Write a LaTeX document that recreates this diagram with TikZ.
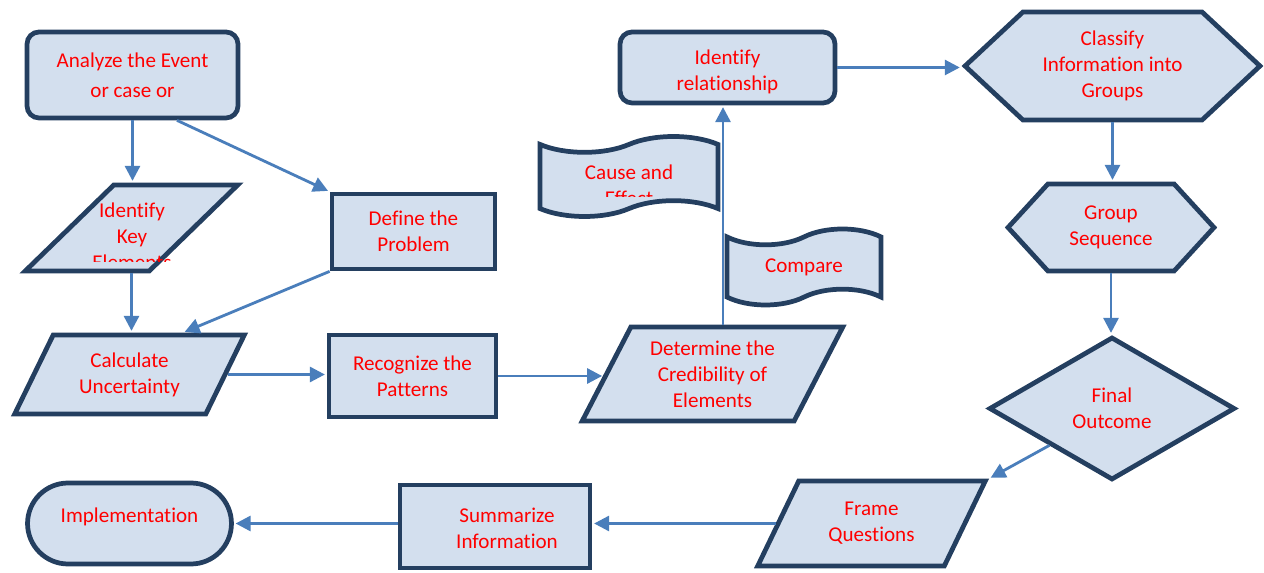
\documentclass[tikz,border=0pt]{standalone}
\usepackage{fontspec}
\setmainfont{Carlito}[Ligatures=NoCommon]
\usetikzlibrary{arrows.meta,shapes.geometric,shapes.misc,shapes.symbols}
\definecolor{boxfill}{HTML}{D3DFEE}
\definecolor{boxline}{HTML}{243F60}
\definecolor{flowline}{HTML}{4A7EBB}
\tikzset{
  fc_txt/.style = {text=red, align=center, inner sep=0pt,
    font=\fontsize{12}{14.8}\selectfont},
  fc_node/.style = {fc_txt, draw=boxline, fill=boxfill, line width=2.7pt,
    inner sep=2pt},
  fc_box/.style = {fc_node, rectangle},% process
  fc_rnd/.style = {fc_node, rectangle, rounded corners=0.24cm},% process, round
  fc_io/.style = {fc_node, trapezium, trapezium left angle=62,
    trapezium right angle=118, trapezium stretches=true},% data
  fc_hex/.style = {fc_node, signal, signal to=east and west},% preparation
  fc_dec/.style = {fc_node, diamond},% decision
  fc_tape/.style = {fc_node, tape, tape bend height=9pt},% tape
  fc_end/.style = {fc_node, rounded rectangle},% terminator
  flow/.style = {draw=flowline, line width=1.6pt, shorten >=1pt,
    -{Triangle[length=8.5pt,width=8.5pt]}}
}

\begin{document}
\begin{tikzpicture}[x=0.02cm, y=-0.02cm]
\useasboundingbox (0,0) rectangle (1264,573);

% left column
\node[fc_rnd, minimum width=4.22cm, minimum height=1.72cm] (analyze)
  at (132.5,75) {Analyze the Event\\[2.3pt]or case or};
\node[fc_io, minimum width=4.26cm, minimum height=1.72cm] (keyel)
  at (131.5,228) {\strut};
\begin{scope}
  \clip (0,183) rectangle (300,262);
  \node[fc_txt] (keyelt) at (132,236) {Identify\\Key\\Elements};
\end{scope}
\node[fc_box, minimum width=3.26cm, minimum height=1.5cm] (define)
  at (413.5,231.5) {Define the\\Problem};
\node[fc_io, minimum width=4.62cm, minimum height=1.58cm] (calc)
  at (129.5,374.5) {Calculate\\Uncertainty};
\node[fc_box, minimum width=3.34cm, minimum height=1.64cm] (recognize)
  at (412.5,376) {Recognize the\\Patterns};

% middle
\node[fc_io, minimum width=5.22cm, minimum height=1.88cm] (determine)
  at (712.5,374) {Determine the\\Credibility of\\Elements};
\node[fc_rnd, minimum width=4.3cm, minimum height=1.42cm] (relation)
  at (727.5,67.5) {};
\node[fc_txt] (relationt) at (727.5,72) {Identify\\relationship};
\node[fc_tape, minimum width=3.56cm, minimum height=1.6cm] (cause)
  at (629,176.5) {\strut};
\begin{scope}
  \clip (500,140) rectangle (720,197);
  \node[fc_txt] (causet) at (629,185) {Cause and\\Effect};
\end{scope}
\node[fc_tape, minimum width=3.08cm, minimum height=1.52cm] (compare)
  at (804,267) {Compare};

% right column
\node[fc_hex, signal pointer angle=86, minimum width=5.9cm,
  minimum height=2.16cm] (classify) at (1112.5,66)
  {Classify\\Information into\\Groups};
\node[fc_hex, signal pointer angle=95, minimum width=4.12cm,
  minimum height=1.74cm] (group) at (1111,227.5) {Group\\Sequence};
\node[fc_dec, minimum width=4.92cm, minimum height=2.86cm] (final)
  at (1112,408.5) {Final\\Outcome};

% bottom row
\node[fc_io, minimum width=4.58cm, minimum height=1.7cm] (frame)
  at (871.5,523.5) {Frame\\Questions};
\node[fc_box, minimum width=3.8cm, minimum height=1.66cm] (summarize)
  at (495,526.5) {};
\node[fc_txt] (summarizet) at (507,528) {Summarize\\Information};
\node[fc_end, minimum width=4.22cm, minimum height=1.62cm] (impl)
  at (129.5,523.5) {};
\node[fc_txt] (implt) at (129.5,517) {Implementation};

% connectors
\draw[flow] (analyze.south) -- (analyze.south |- keyel.north);
\draw[flow] ([xshift=0.89cm]analyze.south) -- (define.north west);
\draw[flow] (keyel.south) -- (keyel.south |- calc.north);
\draw[flow] (define.south west) -- ([xshift=1.07cm]calc.north);
\draw[flow] (calc.east) -- (calc.east -| recognize.west);
\draw[flow] (recognize.east) -- (recognize.east -| determine.west);
\draw[flow] ([xshift=0.21cm]determine.north)
  -- ([xshift=0.21cm]determine.north |- relation.south);
\draw[flow] (relation.east) -- (relation.east -| classify.west);
\draw[flow] (classify.south) -- (classify.south |- group.north);
\draw[flow] (group.south) -- (group.south |- final.north);
\draw[flow] (final.south west) -- (frame.top right corner);
\draw[flow] (frame.west) -- (frame.west -| summarize.east);
\draw[flow] (frame.west -| summarize.west) -- (frame.west -| impl.east);
\end{tikzpicture}
\end{document}
